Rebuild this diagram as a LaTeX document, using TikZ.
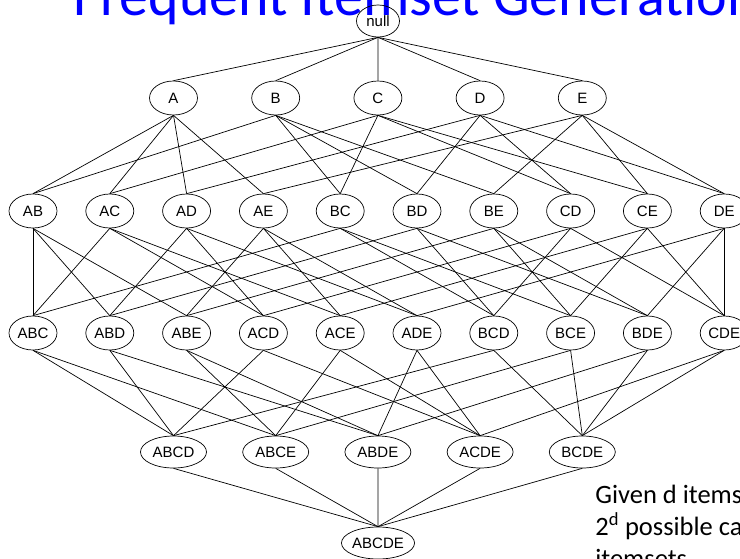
\documentclass[tikz,border=0pt]{standalone}
\usepackage{fontspec}
\setmainfont{Carlito}
\newfontfamily\arialfont{Liberation Sans}
\usepackage{tikz}
\usetikzlibrary{shapes.geometric,positioning,calc}

\begin{document}
\begin{tikzpicture}[x=1pt,y=-1pt,line width=0.7pt,
    itemset/.style={ellipse,draw,inner sep=0pt,minimum width=48pt,minimum height=34pt,
        font=\arialfont\fontsize{15}{15}\selectfont},
    bigset/.style={itemset,minimum width=66pt,minimum height=32pt}]
    \useasboundingbox (0,0) rectangle (740,558);
    \node[anchor=base west,text=blue,font=\fontsize{58}{60}\selectfont] (title) at (70,15) {Frequent Itemset Generation};
    \node[itemset,minimum width=43pt,minimum height=32pt] (null) at (378,21) {null};
    % 1-itemsets
    \foreach \s [count=\i from 0] in {A,B,C,D,E}
        \node[itemset] (\s) at (173.5+102.2*\i,98) {\s};
    % 2-itemsets
    \foreach \s [count=\i from 0] in {AB,AC,AD,AE,BC,BD,BE,CD,CE,DE}
        \node[itemset] (\s) at (33+76.8*\i,211) {\s};
    % 3-itemsets
    \foreach \s [count=\i from 0] in {ABC,ABD,ABE,ACD,ACE,ADE,BCD,BCE,BDE,CDE}
        \node[itemset] (\s) at (33+76.8*\i,333) {\s};
    % 4-itemsets
    \foreach \s [count=\i from 0] in {ABCD,ABCE,ABDE,ACDE,BCDE}
        \node[bigset] (\s) at (173.5+102.2*\i,452) {\s};
    \node[bigset,minimum width=70pt] (ABCDE) at (378,543) {ABCDE};
    % lattice edges
    \foreach \s in {A,B,C,D,E}
        \draw (null.south) -- (\s.north);
    \foreach \a/\b in {A/B,A/C,A/D,A/E,B/C,B/D,B/E,C/D,C/E,D/E} {
        \draw (\a.south) -- (\a\b.north);
        \draw (\b.south) -- (\a\b.north);
    }
    \foreach \a/\b/\c in {A/B/C,A/B/D,A/B/E,A/C/D,A/C/E,A/D/E,B/C/D,B/C/E,B/D/E,C/D/E} {
        \draw (\a\b.south) -- (\a\b\c.north);
        \draw (\a\c.south) -- (\a\b\c.north);
        \draw (\b\c.south) -- (\a\b\c.north);
    }
    \foreach \a/\b/\c/\d in {A/B/C/D,A/B/C/E,A/B/D/E,A/C/D/E,B/C/D/E} {
        \draw (\a\b\c.south) -- (\a\b\c\d.north);
        \draw (\a\b\d.south) -- (\a\b\c\d.north);
        \draw (\a\c\d.south) -- (\a\b\c\d.north);
        \draw (\b\c\d.south) -- (\a\b\c\d.north);
    }
    \foreach \s in {ABCD,ABCE,ABDE,ACDE,BCDE}
        \draw (\s.south) -- (ABCDE.north);
    % last line's baseline sets the node base
    \node[anchor=base west,align=left,inner sep=0pt,font=\fontsize{26.5}{32}\selectfont] (note) at (595,567)
        {Given d items, there are\\2\textsuperscript{d} possible candidate\\itemsets};
\end{tikzpicture}
\end{document}
